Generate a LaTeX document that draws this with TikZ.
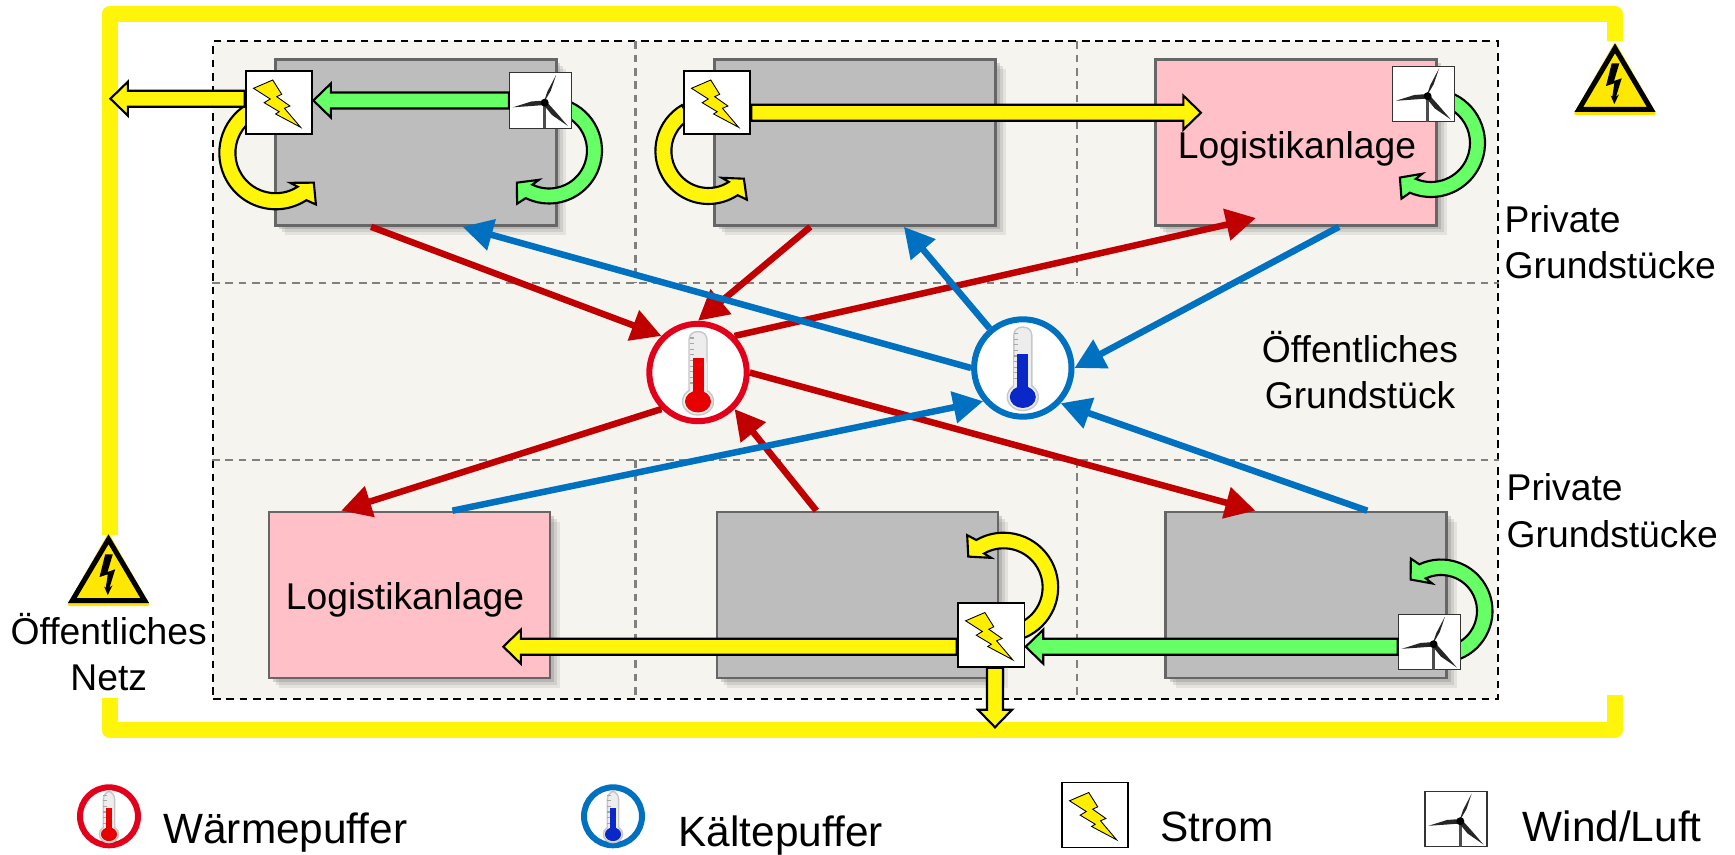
\documentclass[tikz,border=0pt]{standalone}
\usepackage{fontspec}
\setmainfont{Liberation Sans}
\usetikzlibrary{calc,arrows.meta,shadows}

\definecolor{netzyellow}{HTML}{FFF50A}
\definecolor{arrowgreen}{HTML}{66FF66}
\definecolor{boltyellow}{HTML}{FFEE00}
\definecolor{sitefill}{HTML}{F5F4EE}
\definecolor{buildgray}{HTML}{BDBDBD}
\definecolor{pinkfill}{HTML}{FFC0C8}
\definecolor{warmred}{HTML}{C00000}
\definecolor{warmring}{HTML}{E2001A}
\definecolor{coldblue}{HTML}{0070C0}
\definecolor{liquidred}{HTML}{E60000}
\definecolor{liquidblue}{HTML}{0A28C8}

\tikzset{
    netz/.style={netzyellow, line width=0.16cm, line join=round},
    griddash/.style={gray, line width=0.65pt, dash pattern=on 2.2pt off 1.6pt},
    building/.style={draw=black!60, line width=0.75pt, fill=buildgray, inner sep=0pt,
        minimum width=2.81cm, minimum height=1.66cm,
        drop shadow={shadow xshift=0.1cm, shadow yshift=-0.1cm, opacity=0.15},
        drop shadow={shadow xshift=0.07cm, shadow yshift=-0.07cm, opacity=0.2},
        drop shadow={shadow xshift=0.04cm, shadow yshift=-0.04cm, opacity=0.3}},
    blockline/.style={draw=black, line width=0.6pt},
    stromnode/.style={draw=black, line width=0.55pt, fill=white, inner sep=0pt,
        minimum width=0.668cm, minimum height=0.636cm},
    windnode/.style={draw=black!80, line width=0.3pt, fill=white, inner sep=0pt,
        minimum width=0.62cm, minimum height=0.556cm},
    thermnode/.style={circle, draw=#1, line width=0.06cm, fill=white, inner sep=0pt, minimum size=0.974cm},
    warmline/.style={warmred, line width=0.065cm},
    coldline/.style={coldblue, line width=0.065cm},
    warmarrow/.style={warmline, -{Triangle[length=3mm, width=3.1mm]}},
    coldarrow/.style={coldline, -{Triangle[length=3mm, width=3.1mm]}},
    label/.style={font=\fontsize{10.6}{13.2}\selectfont, inner sep=0pt},
    legendlabel/.style={font=\fontsize{12.05}{14}\selectfont, inner sep=0pt, anchor=base west},
    pics/bolt/.style={code={
        \draw[fill=boltyellow, line width=0.25pt] (-0.0625, 0.225) -- (-0.255, 0.142) -- (-0.0875, 0.035) -- (-0.148, -0.002)
            -- (0.002, -0.092) -- (-0.034, -0.115) -- (0.216, -0.248) -- (0.055, -0.058) -- (0.109, -0.035)
            -- (-0.023, 0.058) -- (0.027, 0.082) -- cycle;
    }},
    pics/mill/.style={code={
        \draw[black!70, line width=0.9pt] (0.043, -0.022) -- (0.043, -0.278);
        \fill[black!85] (0.03, -0.03) -- (0.105, 0.1) -- (0.157, 0.255) -- (0.07, 0.09) -- cycle;
        \fill[black!85] (0.043, 0) -- (-0.09, -0.01) -- (-0.275, -0.068) -- (-0.09, -0.055) -- (0.043, -0.045) -- cycle;
        \fill[black!85] (0.06, -0.01) -- (0.15, -0.11) -- (0.275, -0.255) -- (0.115, -0.145) -- (0.03, -0.04) -- cycle;
        \fill[black] (0.043, -0.022) circle (0.04);
    }},
    pics/thermo/.style={code={
        \draw[black!22, fill=black!7, line width=0.4pt, rounded corners=0.08cm] (-0.09, -0.2) -- (-0.09, 0.408) -- (0.09, 0.408) -- (0.09, -0.2);
        \draw[black!22, fill=black!7, line width=0.4pt] (0, -0.29) ellipse (0.155 and 0.135);
        \fill[black!7] (-0.085, -0.22) rectangle (0.085, 0.1);
        \draw[black!35, line width=0.04cm, dash pattern=on 0.3pt off 1.3pt] (-0.065, 0.35) -- (-0.065, -0.15);
        \fill[#1] (-0.055, -0.25) rectangle (0.055, 0.14);
        \fill[#1] (0, -0.29) ellipse (0.13 and 0.11);
    }},
    pics/warn/.style={code={
        \fill[yellow!85!orange, rounded corners=0.03cm] (-0.42, 0) -- (0, 0.735) -- (0.42, 0) -- cycle;
        \draw[black, fill=yellow!90!orange, line width=0.05cm] (-0.362, 0.055) -- (0, 0.667) -- (0.362, 0.055) -- cycle;
        \fill[black] (-0.033, 0.517) -- (-0.09, 0.29) -- (-0.007, 0.317) -- (-0.027, 0.183) -- (-0.043, 0.193) -- (-0.007, 0.11)
            -- (0.04, 0.207) -- (0.01, 0.183) -- (0.067, 0.367) -- (-0.01, 0.34) -- (0.043, 0.517) -- cycle;
    }}
}

% straight arrow with a black outline
\newcommand{\blockarrow}[3]{
    \draw[blockline, fill=#3] let \p1 = (#1), \p2 = (#2), \n1 = {atan2(\y2-\y1, \x2-\x1)}, \n2 = {veclen(\x2-\x1, \y2-\y1)} in
        [shift={(\p1)}, rotate=\n1] (0, -0.08) -- (\n2-0.175cm, -0.08) -- (\n2-0.175cm, -0.17) -- (\n2, 0)
        -- (\n2-0.175cm, 0.17) -- (\n2-0.175cm, 0.08) -- (0, 0.08) -- cycle;
}
% bent arrow: centre, outer radius, inner radius, start, end, tip angle, colour
\newcommand{\looparrow}[7]{
    \draw[blockline, fill=#7] ($(#1)+(#4:#2)$) arc[start angle=#4, end angle=#5, radius=#2]
        -- ($(#1)+({#5+(#6-#5)*0.26}:{#2+0.09})$) -- ($(#1)+(#6:{(#2+#3)/2})$) -- ($(#1)+({#5-(#6-#5)*0.37}:{#3-0.07})$)
        -- ($(#1)+(#5:#3)$) arc[start angle=#5, end angle=#4, radius=#3] -- cycle;
}

\begin{document}
\begin{tikzpicture}
            \useasboundingbox (0, 0) rectangle (17.35, 8.54);
            % public grid
            \draw [netz] (1.095, 3.19) -- (1.095, 8.40) -- (16.147, 8.40) -- (16.147, 8.13);
            \draw [netz] (1.095, 1.56) -- (1.095, 1.24) -- (16.147, 1.24) -- (16.147, 1.59);
            \pic at (16.15, 7.39) {warn};
            \pic at (1.085, 2.48) {warn};
            % site
            \node (site) at (8.553, 4.838) [draw=black, line width=0.6pt, dash pattern=on 2.2pt off 1.6pt, fill=sitefill, minimum width=12.847cm, minimum height=6.577cm] {};
            \draw [griddash] (site.west |- 0, 5.713) -- (site.east |- 0, 5.713);
            \draw [griddash] (site.west |- 0, 3.94) -- (site.east |- 0, 3.94);
            \draw [griddash] (6.355, 8.127) -- (6.355, 5.713);
            \draw [griddash] (10.77, 8.127) -- (10.77, 5.713);
            \draw [griddash] (6.355, 3.94) -- (6.355, 1.55);
            \draw [griddash] (10.77, 3.94) -- (10.77, 1.55);
            % buildings
            \node (buildA) at (4.159, 7.115) [building] {};
            \node (buildB) at (8.552, 7.115) [building] {};
            \node (pinkC) at (12.96, 7.115) [building, fill=pinkfill] {};
            \node (pinkD) at (4.095, 2.59) [building, fill=pinkfill] {};
            \node (buildE) at (8.575, 2.59) [building] {};
            \node (buildF) at (13.06, 2.59) [building] {};
            \node (plantC) at (12.97, 7.05) [label] {Logistikanlage};
            \node (plantD) at (4.05, 2.545) [label] {Logistikanlage};
            % local loops
            \looparrow{2.757, 7.011}{0.564}{0.403}{120}{303}{322}{netzyellow}
            \looparrow{7.084, 7.03}{0.53}{0.37}{120}{303.5}{322}{netzyellow}
            \looparrow{5.49, 7.035}{0.53}{0.38}{70}{-116}{-135}{arrowgreen}
            \looparrow{14.31, 7.11}{0.54}{0.39}{70}{-113}{-132}{arrowgreen}
            \looparrow{10.036, 2.667}{0.546}{0.39}{-90}{120}{139}{netzyellow}
            \looparrow{14.41, 2.43}{0.515}{0.36}{-80}{115}{134}{arrowgreen}
            % generation and power
            \node (stromA) at (2.79, 7.515) [stromnode] {};
            \pic at (stromA) {bolt};
            \node (windA) at (5.404, 7.535) [windnode] {};
            \pic at (windA) {mill};
            \node (stromB) at (7.17, 7.515) [stromnode] {};
            \pic at (stromB) {bolt};
            \node (windC) at (14.233, 7.60) [windnode] {};
            \pic at (windC) {mill};
            \node (stromE) at (9.911, 2.19) [stromnode] {};
            \pic at (stromE) {bolt};
            \node (windF) at (14.293, 2.12) [windnode] {};
            \pic at (windF) {mill};
            \coordinate (netzTip) at (1.104, 7.553);
            \coordinate (pinkTipC) at (12.009, 7.413);
            \coordinate (pinkTipD) at (5.033, 2.073);
            \coordinate (stromTipE) at (10.257, 2.073);
            \coordinate (downTip) at (9.95, 1.267);
            \blockarrow{stromA.west |- netzTip}{netzTip}{netzyellow}
            \blockarrow{windA.west}{stromA.east |- windA.west}{arrowgreen}
            \blockarrow{stromB.east |- pinkTipC}{pinkTipC}{netzyellow}
            \blockarrow{stromE.west |- pinkTipD}{pinkTipD}{netzyellow}
            \blockarrow{windF.west |- stromTipE}{stromTipE}{arrowgreen}
            \blockarrow{stromE.south -| downTip}{downTip}{netzyellow}
            % buffers
            \node (therR) at (6.98, 4.815) [thermnode=warmring] {};
            \node (therB) at (10.228, 4.86) [thermnode=coldblue] {};
            \coordinate (pinkHeat) at (12.56, 6.36);
            \draw [warmarrow] (buildA.242.7) -- (therR.135);
            \draw [warmarrow] (buildB.242.6) -- (therR.90);
            \draw [warmarrow] (therR.45) -- (pinkHeat);
            \draw [warmarrow] (therR.225) -- (pinkD.129);
            \draw [warmarrow] (buildE.116) -- (therR.-45);
            \draw [warmarrow] (therR.0) -- (buildF.121);
            \draw [coldarrow] (therB.180) -- (buildA.299);
            \draw [coldarrow] (therB.130) -- (buildB.300.6);
            \draw [coldarrow] (pinkC.297.3) -- (therB.0);
            \draw [coldarrow] (pinkD.63.2) -- (therB.220);
            \draw [coldarrow] (buildF.54.4) -- (therB.317);
            \pic at (therR) {thermo=liquidred};
            \pic at (therB) {thermo=liquidblue};
            % labels
            \node (privTop) at (15.04, 6.12) [label, anchor=west, align=left] {Private\\Grundstücke};
            \node (privBot) at (15.06, 3.434) [label, anchor=west, align=left] {Private\\Grundstücke};
            \node (oeffGrund) at (13.6, 4.84) [label, align=center] {Öffentliches\\Grundstück};
            \node (oeffNetz) at (1.087, 2.02) [label, align=center] {Öffentliches\\Netz};
            % legend
            \node (legWarm) at (1.09, 0.377) [thermnode=warmring, minimum size=0.58cm] {};
            \pic [scale=0.62] at (legWarm) {thermo=liquidred};
            \node (legCold) at (6.13, 0.377) [thermnode=coldblue, minimum size=0.58cm] {};
            \pic [scale=0.62] at (legCold) {thermo=liquidblue};
            \node (legStrom) at (10.95, 0.39) [stromnode, minimum height=0.65cm] {};
            \pic at (legStrom) {bolt};
            \node (legWind) at (14.56, 0.35) [windnode] {};
            \pic at (legWind) {mill};
            \node (textWarm) at (1.627, 0.107) [legendlabel] {Wärmepuffer};
            \node (textCold) at (6.78, 0.08) [legendlabel] {Kältepuffer};
            \node (textStrom) at (11.6, 0.123) [legendlabel] {Strom};
            \node (textWind) at (15.22, 0.123) [legendlabel] {Wind/Luft};
        \end{tikzpicture}
\end{document}
